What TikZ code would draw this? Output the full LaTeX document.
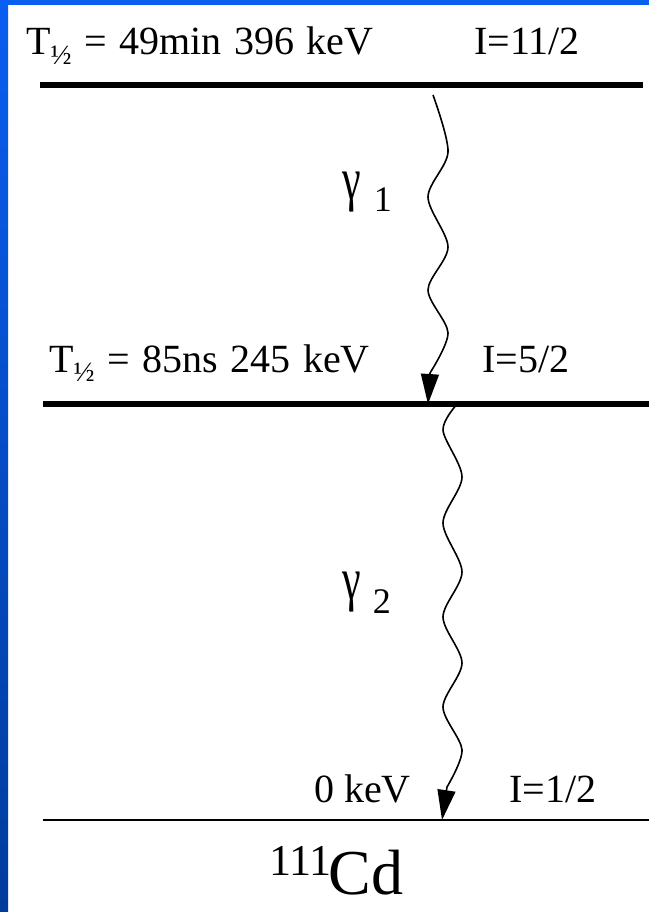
\documentclass[tikz,border=0pt]{standalone}
\usepackage{fontspec}
\setmainfont{Liberation Serif}
\usetikzlibrary{arrows.meta}
\definecolor{stripblue}{HTML}{0A5EF0}
\definecolor{stripdark}{HTML}{003C9C}
\newcommand{\widespaces}{\spaceskip 12.5pt\relax}

\tikzset{
  statebar/.style={line width=5.5pt},
  groundbar/.style={line width=2.2pt},
  lbl/.style={anchor=base west, inner sep=0pt, font=\fontsize{40}{40}\selectfont},
  halflbl/.style={lbl, font={\fontsize{40}{40}\selectfont\widespaces}},
  gammalbl/.style={anchor=base west, inner sep=0pt, font=\fontsize{40}{40}\selectfont},
  photon/.style={line width=1.6pt, line join=round, -{Triangle[length=30pt,width=18pt]}}
}

\begin{document}
\begin{tikzpicture}[x=1pt,y=-1pt]
\useasboundingbox (0,0) rectangle (649,912);
% slide frame
\fill[white] (0,0) rectangle (649,912);
\shade[top color=stripblue, bottom color=stripdark] (0,0) rectangle (8,912);
\fill[stripblue] (0,0) rectangle (649,5);

% levels
\draw[statebar] (40,85) coordinate (top west) -- (643,85) coordinate (top east);
\draw[statebar] (43,404) coordinate (mid west) -- (649,404) coordinate (mid east);
\draw[groundbar] (43,820) coordinate (gnd west) -- (649,820) coordinate (gnd east);

% level labels
\node[halflbl] (t1) at (26,55) {T\textsubscript{½} = 49min 396 keV};
\node[lbl] (s1) at (474,55) {I=11/2};
\node[halflbl] (t2) at (49,372) {T\textsubscript{½} = 85ns 245 keV};
\node[lbl] (s2) at (482,372) {I=5/2};
\node[lbl] (t3) at (314,802) {0 keV};
\node[lbl] (s3) at (509,802) {I=1/2};

% gamma labels
\node[gammalbl] (g1) at (342,199) {\scalebox{1.05}[1.5]{γ}\hspace{13pt}\raisebox{-13pt}{\fontsize{36}{36}\selectfont 1}};
\node[gammalbl] (g2) at (342,599) {\scalebox{1.05}[1.5]{γ}\hspace{12pt}\raisebox{-14pt}{\fontsize{36}{36}\selectfont 2}};

% nucleus
\node[anchor=base west, inner sep=0pt] (nuc) at (269,894)
  {\fontsize{44}{44}\selectfont\raisebox{19pt}{111}\kern-3pt\fontsize{64}{64}\selectfont Cd};

% gamma cascade
\coordinate (g1start) at (433,95);
\coordinate (g1tip) at (428,404);
\coordinate (g2start) at (458,403);
\coordinate (g2tip) at (442,820);
\draw[photon] plot[smooth] coordinates {(g1start) (448,152) (428,197) (448,247) (428,290) (448,333) (430,373)} -- (g1tip);
\draw[photon] plot[smooth] coordinates {(g2start) (443,430) (462,477) (443,523) (462,572) (443,617) (462,663) (443,707) (462,750) (447,787)} -- (g2tip);
\end{tikzpicture}
\end{document}
